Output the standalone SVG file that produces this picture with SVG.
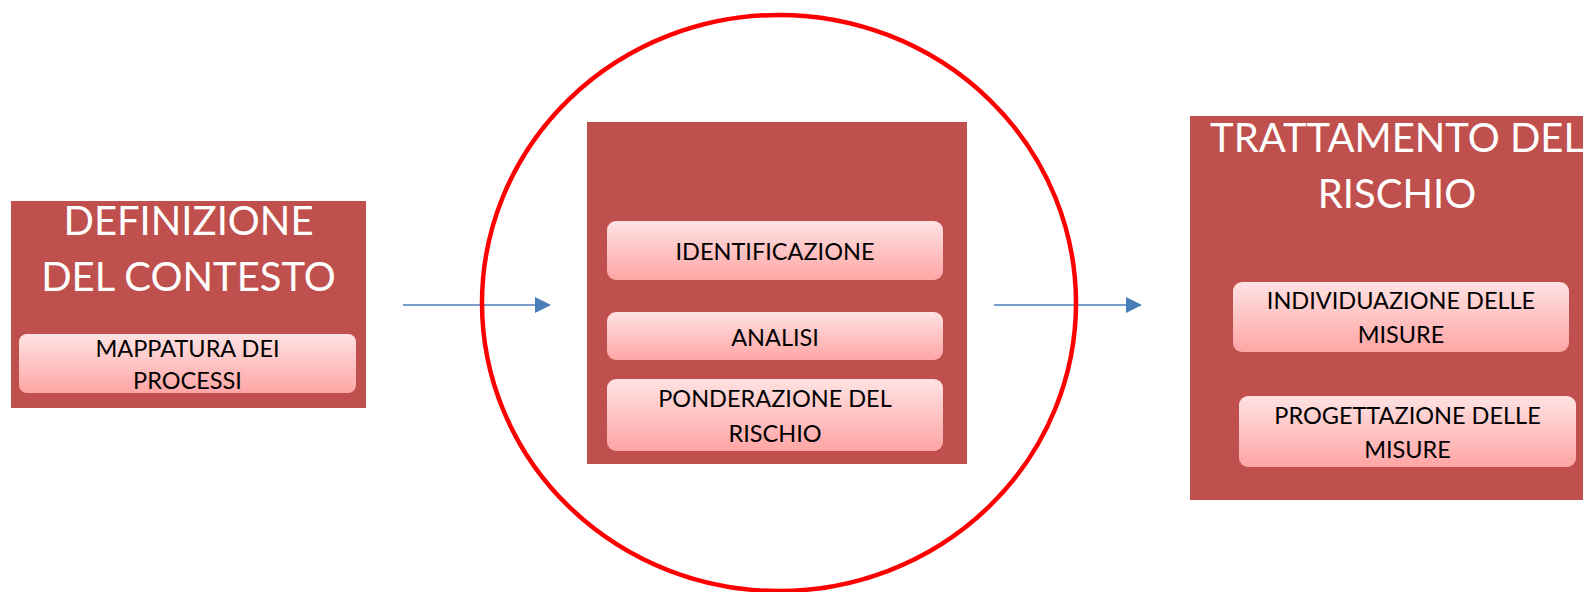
<svg xmlns="http://www.w3.org/2000/svg" width="1583" height="592" viewBox="0 0 1583 592">
<style>
.box{fill:#C0504D;}
.inner{fill:url(#pink);}
.title{font-family:Lato,"Liberation Sans",sans-serif;font-size:40px;fill:#FFFFFF;text-anchor:middle;}
.lbl{font-family:Lato,"Liberation Sans",sans-serif;font-size:23.5px;fill:#000000;text-anchor:middle;}
.conn{stroke:#4A7EBB;stroke-width:1.5;fill:none;}
.head{fill:#4A7EBB;}
</style>
<defs>
<linearGradient id="pink" x1="0" y1="0" x2="0" y2="1">
<stop offset="0" stop-color="#FFE2E2"/>
<stop offset="1" stop-color="#FFA5A5"/>
</linearGradient>
</defs>
<g id="connectors">
<line class="conn" x1="403" y1="305" x2="540" y2="305"/>
<path class="head" d="M535,297 L551,305 L535,313 Z"/>
<line class="conn" x1="994" y1="305" x2="1131" y2="305"/>
<path class="head" d="M1126,297 L1142,305 L1126,313 Z"/>
</g>
<g id="circle">
<ellipse cx="779" cy="303" rx="297" ry="288" fill="none" stroke="#FF0000" stroke-width="4.5"/>
</g>
<g id="definizione">
<rect class="box" x="11" y="201" width="355" height="207"/>
<text class="title" x="188.5" y="235">DEFINIZIONE</text>
<text class="title" x="188.5" y="291">DEL CONTESTO</text>
<g id="mappatura">
<rect class="inner" x="19" y="334" width="337" height="59" rx="8"/>
<text class="lbl" x="187.5" y="357">MAPPATURA DEI</text>
<text class="lbl" x="187.5" y="389">PROCESSI</text>
</g>
</g>
<g id="valutazione">
<rect class="box" x="587" y="122" width="380" height="342"/>
<g id="identificazione">
<rect class="inner" x="607" y="221" width="336" height="59" rx="9"/>
<text class="lbl" x="775" y="260">IDENTIFICAZIONE</text>
</g>
<g id="analisi">
<rect class="inner" x="607" y="312" width="336" height="48" rx="9"/>
<text class="lbl" x="775" y="346">ANALISI</text>
</g>
<g id="ponderazione">
<rect class="inner" x="607" y="379" width="336" height="72" rx="9"/>
<text class="lbl" x="775" y="407">PONDERAZIONE DEL</text>
<text class="lbl" x="775" y="442">RISCHIO</text>
</g>
</g>
<g id="trattamento">
<rect class="box" x="1190" y="116" width="420" height="384"/>
<text class="title" x="1397" y="152">TRATTAMENTO DEL</text>
<text class="title" x="1397" y="208">RISCHIO</text>
<g id="individuazione">
<rect class="inner" x="1233" y="282" width="336" height="70" rx="9"/>
<text class="lbl" x="1401" y="309">INDIVIDUAZIONE DELLE</text>
<text class="lbl" x="1401" y="343">MISURE</text>
</g>
<g id="progettazione">
<rect class="inner" x="1239" y="396" width="337" height="71" rx="9"/>
<text class="lbl" x="1407.5" y="424">PROGETTAZIONE DELLE</text>
<text class="lbl" x="1407.5" y="458">MISURE</text>
</g>
</g>
</svg>
